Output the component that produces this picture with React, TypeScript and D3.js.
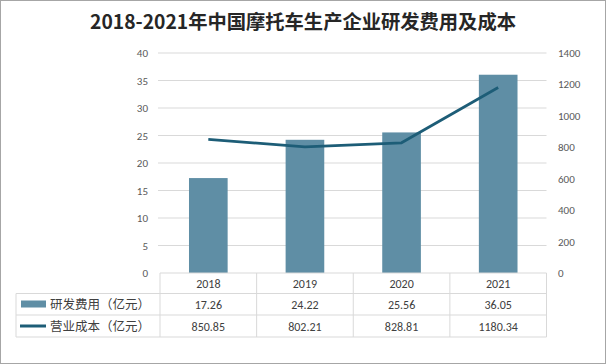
import React from "react";
import * as d3 from "d3";

const title = "2018-2021年中国摩托车生产企业研发费用及成本";
const years = ["2018", "2019", "2020", "2021"];
const rdCost = [17.26, 24.22, 25.56, 36.05];
const opCost = [850.85, 802.21, 828.81, 1180.34];
const rdLabels = ["17.26", "24.22", "25.56", "36.05"];
const opLabels = ["850.85", "802.21", "828.81", "1180.34"];
const leftTicks = [0, 5, 10, 15, 20, 25, 30, 35, 40];
const rightTicks = [0, 200, 400, 600, 800, 1000, 1200, 1400];
const seriesNames = ["研发费用（亿元）", "营业成本（亿元）"];

const W = 606;
const H = 364;
const BAR = "#5f8ea5";
const LINE = "#1d5d77";
const GRID = "#d9d9d9";
const TXT = "#595959";

export default function App() {
  const left = 160, right = 546.5, top = 53, bottom = 273;
  const x = d3.scaleBand<string>().domain(years).range([left, right]).paddingInner(0).paddingOuter(0);
  const yL = d3.scaleLinear().domain([0, 40]).range([bottom, top]);
  const yR = d3.scaleLinear().domain([0, 1400]).range([bottom, top]);
  const bw = x.bandwidth() * 0.4;
  const line = d3
    .line<number>()
    .x((_, i) => (x(years[i]) as number) + x.bandwidth() / 2)
    .y((d) => yR(d));
  const font = "'Calibri', 'Liberation Sans', 'Noto Sans CJK SC', sans-serif";
  const cjk = "'Noto Sans CJK SC', sans-serif";
  const rowTop = 293.5, row1 = 315, row2 = 337;
  const tableLeft = 16;
  const cols = [left, ...years.map((y) => (x(y) as number) + x.bandwidth())];

  return (
    <svg
      width={W}
      height={H}
      style={{ position: "absolute", left: 0, top: 0, background: "#fff" }}
      fontFamily={font}
    >
      <rect x={0.5} y={0.5} width={W - 1} height={H - 1} fill="#fff" stroke="#a6a6a6" />
      <text
        x={303}
        y={29}
        textAnchor="middle"
        fontSize={19.3}
        fontWeight="bold"
        fill="#262626"
        fontFamily={cjk}
      >
        {title}
      </text>
      {leftTicks.map((t) => (
        <g key={"l" + t}>
          {t > 0 && (
            <line x1={left - 2} x2={right} y1={yL(t)} y2={yL(t)} stroke={GRID} strokeWidth={1} />
          )}
          <text x={148} y={yL(t) + 4} textAnchor="end" fontSize={11} fill={TXT}>
            {t}
          </text>
        </g>
      ))}
      {rightTicks.map((t) => (
        <text key={"r" + t} x={558} y={yR(t) + 4} textAnchor="start" fontSize={11} fill={TXT}>
          {t}
        </text>
      ))}
      {years.map((yr, i) => (
        <rect
          key={"b" + yr}
          x={(x(yr) as number) + (x.bandwidth() - bw) / 2}
          y={yL(rdCost[i])}
          width={bw}
          height={bottom - yL(rdCost[i])}
          fill={BAR}
        />
      ))}
      <path d={line(opCost) || ""} fill="none" stroke={LINE} strokeWidth={2.75} strokeLinejoin="round" />
      {/* table */}
      <line x1={left} x2={right} y1={bottom} y2={bottom} stroke={GRID} />
      <line x1={tableLeft} x2={right} y1={rowTop} y2={rowTop} stroke={GRID} />
      <line x1={tableLeft} x2={right} y1={row1} y2={row1} stroke={GRID} />
      <line x1={tableLeft} x2={right} y1={row2} y2={row2} stroke={GRID} />
      <line x1={tableLeft} x2={tableLeft} y1={rowTop} y2={row2} stroke={GRID} />
      {cols.map((c, i) => (
        <line key={"c" + i} x1={c} x2={c} y1={bottom} y2={row2} stroke={GRID} />
      ))}
      {years.map((yr, i) => {
        const cx = (x(yr) as number) + x.bandwidth() / 2;
        return (
          <g key={"t" + yr}>
            <text x={cx} y={288} textAnchor="middle" fontSize={12} fill="#404040">
              {yr}
            </text>
            <text x={cx} y={309} textAnchor="middle" fontSize={12} fill="#404040">
              {rdLabels[i]}
            </text>
            <text x={cx} y={331} textAnchor="middle" fontSize={12} fill="#404040">
              {opLabels[i]}
            </text>
          </g>
        );
      })}
      <rect x={21} y={300.5} width={25} height={7} fill={BAR} />
      <line x1={20} x2={46} y1={326} y2={326} stroke={LINE} strokeWidth={3} />
      <text x={50} y={309} fontSize={12.5} fill="#404040" fontFamily={cjk}>
        {seriesNames[0]}
      </text>
      <text x={50} y={331} fontSize={12.5} fill="#404040" fontFamily={cjk}>
        {seriesNames[1]}
      </text>
    </svg>
  );
}
